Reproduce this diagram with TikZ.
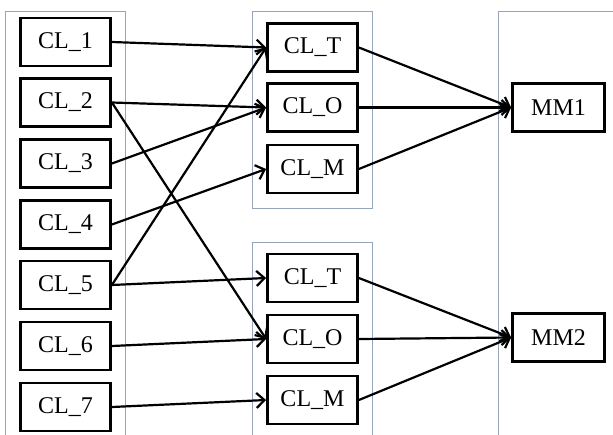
\documentclass[tikz,border=0pt]{standalone}
\usepackage{fontspec}
\setmainfont{Liberation Serif}
\usetikzlibrary{arrows.meta}
\definecolor{contcol}{RGB}{150,166,186}
\tikzset{
  box/.style={draw=black, line width=2.8pt, minimum width=90pt, minimum height=48pt, inner sep=0pt, font=\fontsize{24}{27}\selectfont, fill=white},
  container/.style={draw=contcol, line width=0.9pt},
  conn/.style={line width=2.2pt, -{Straight Barb[length=8pt,width=15pt,line width=2.2pt]}},
}
\begin{document}
\begin{tikzpicture}[x=1pt,y=-1pt]
\useasboundingbox (0,0) rectangle (613,434);
\clip (0,0) rectangle (613,434);
\fill[white] (0,0) rectangle (613,434);
% containers
\draw[container] (5,11) rectangle (125,445);
\draw[container] (252,11) rectangle (372,208);
\draw[container] (252,242) rectangle (372,445);
\draw[container] (498,11) rectangle (625,445);
% left nodes
\node[box] (l1) at (65.5,42) {CL\_1};
\node[box] (l2) at (65.5,102.5) {CL\_2};
\node[box] (l3) at (65.5,163.5) {CL\_3};
\node[box] (l4) at (65.5,224.5) {CL\_4};
\node[box] (l5) at (65.5,285) {CL\_5};
\node[box] (l6) at (65.5,346) {CL\_6};
\node[box] (l7) at (65.5,407) {CL\_7};
% middle nodes
\node[box] (t1) at (312.5,47.5) {CL\_T};
\node[box] (o1) at (312.5,107.5) {CL\_O};
\node[box] (m1) at (312.5,169) {CL\_M};
\node[box] (t2) at (312.5,278) {CL\_T};
\node[box] (o2) at (312.5,339) {CL\_O};
\node[box] (m2) at (312.5,400) {CL\_M};
% right nodes
\node[box, minimum width=92pt] (mm1) at (558.5,107.5) {MM1};
\node[box, minimum width=92pt] (mm2) at (558.5,337.5) {MM2};
% connectors
\draw[conn] (l1.east) -- (t1.west);
\draw[conn] (l2.east) -- (o1.west);
\draw[conn] (l2.east) -- (o2.west);
\draw[conn] (l3.east) -- (o1.west);
\draw[conn] (l4.east) -- (m1.west);
\draw[conn] (l5.east) -- (t1.west);
\draw[conn] (l5.east) -- (t2.west);
\draw[conn] (l6.east) -- (o2.west);
\draw[conn] (l7.east) -- (m2.west);
\draw[conn] (t1.east) -- (mm1.west);
\draw[conn] (o1.east) -- (mm1.west);
\draw[conn] (m1.east) -- (mm1.west);
\draw[conn] (t2.east) -- (mm2.west);
\draw[conn] (o2.east) -- (mm2.west);
\draw[conn] (m2.east) -- (mm2.west);
\end{tikzpicture}
\end{document}
